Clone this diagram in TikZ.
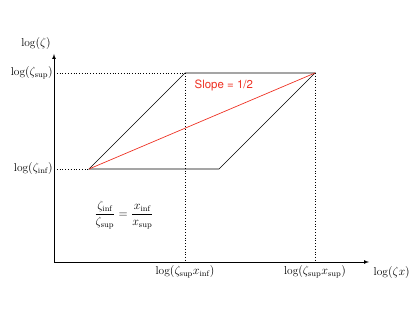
\documentclass[tikz,border=0pt]{standalone}
\usepackage{amsmath}
\usepackage{fontspec}
\newfontfamily\slopefont{TeX Gyre Heros}
\usepackage{tikz}
\usetikzlibrary{calc}
\definecolor{slopered}{RGB}{238,50,36}

\begin{document}
\begin{tikzpicture}[x=1bp,y=1bp, line width=0.7pt, every node/.style={font=\fontsize{11.5}{13}\selectfont}]
    \useasboundingbox (0,0) rectangle (415,321);
    \coordinate (O) at (54,59);
    \coordinate (Xend) at (369,59); \coordinate (Yend) at (54,267);
    \coordinate (A) at (89,152); \coordinate (B) at (219,152);
    \coordinate (C) at (315,248); \coordinate (D) at (185,248);
    \coordinate (Ly) at (O |- D); \coordinate (Lyi) at (O |- A);
    \coordinate (Px) at (O -| D); \coordinate (Pxs) at (O -| C);
    \draw[-latex] (O) -- (Xend); \draw[-latex] (O) -- (Yend);
    \draw[dotted, thick] (Ly) -- (D); \draw[dotted, thick] (Lyi) -- (A);
    \draw[dotted, thick] (D) -- (Px); \draw[dotted, thick] (C) -- (Pxs);
    \draw (A) -- (B) -- (C) -- (D) -- cycle;
    \draw[slopered] (A) -- (C);
    \node[slopered, font=\slopefont\fontsize{11.5}{14}\selectfont, anchor=west] (slope) at (191,236) {Slope = 1/2};
    \node[anchor=south] (ylab) at (36,268) {$\log(\zeta)$};
    \node[left, inner sep=1pt] (ysup) at (Ly) {$\log(\zeta_{\text{sup}})$};
    \node[left, inner sep=1pt] (yinf) at (Lyi) {$\log(\zeta_{\text{inf}})$};
    \node[below] (xinf) at (Px) {$\log(\zeta_{\text{sup}}x_{\text{inf}})$};
    \node[below] (xsup) at (Pxs) {$\log(\zeta_{\text{sup}}x_{\text{sup}})$};
    \node[right] (xlab) at (370,48) {$\log(\zeta x)$};
    \node (ratio) at (124,106) {$\dfrac{\zeta_{\text{inf}}}{\zeta_{\text{sup}}}=\dfrac{x_{\text{inf}}}{x_{\text{sup}}}$};
\end{tikzpicture}
\end{document}
